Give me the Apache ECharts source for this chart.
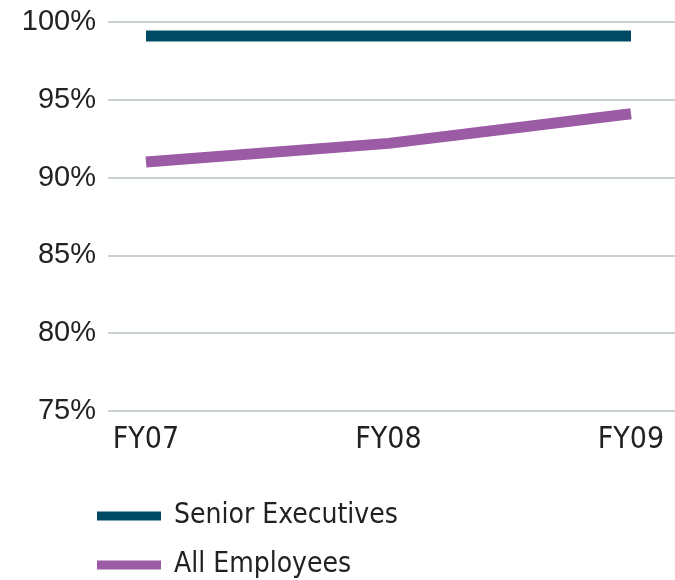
<!DOCTYPE html>
<html><head><meta charset="utf-8">
<script src="https://cdn.jsdelivr.net/npm/echarts@6/dist/echarts.min.js"></script>
<style>html,body{margin:0;padding:0;background:#fff}#c{width:675px;height:580px}</style>
</head><body><div id="c"></div>
<script>
const categories = ['FY07', 'FY08', 'FY09'];
const seniorExecutives = [99.1, 99.1, 99.1];
const allEmployees = [91.0, 92.2, 94.1];
const yTicks = [75, 80, 85, 90, 95, 100];

const narrow = '"DejaVu Sans Condensed", "Liberation Sans Narrow", "Roboto Condensed", "Open Sans Condensed", sans-serif';
const legendBase = {
  orient: 'horizontal', left: 92, itemWidth: 64, itemHeight: 9, icon: 'rect',
  textStyle: { fontSize: 28, color: '#222', fontFamily: narrow, padding: [0, 0, 0, 8] }
};

const chart = echarts.init(document.getElementById('c'));
chart.setOption({
  animation: false,
  backgroundColor: '#fff',
  grid: [
    { left: 108, right: 0, top: 22, bottom: 169 },
    { left: 146, right: 44, top: 22, bottom: 169 }
  ],
  xAxis: [
    { gridIndex: 0, type: 'category', data: categories, show: false },
    { gridIndex: 1, type: 'category', data: categories, boundaryGap: false,
      axisLine: { show: false }, axisTick: { show: false },
      axisLabel: { margin: 14, fontSize: 30, color: '#222', fontFamily: narrow } }
  ],
  yAxis: [
    { gridIndex: 0, type: 'value', min: yTicks[0], max: yTicks[yTicks.length - 1], interval: 5,
      axisLine: { show: false }, axisTick: { show: false },
      splitLine: { lineStyle: { color: '#b9c3bf', width: 1.5 } },
      axisLabel: { margin: 12, fontSize: 29, color: '#222', fontFamily: 'Liberation Sans', formatter: '{value}%' } },
    { gridIndex: 1, type: 'value', min: yTicks[0], max: yTicks[yTicks.length - 1], interval: 5, show: false }
  ],
  legend: [
    Object.assign({}, legendBase, { top: 497, data: ['Senior Executives'] }),
    Object.assign({}, legendBase, { top: 546, data: ['All Employees'] })
  ],
  series: [
    { name: 'Senior Executives', type: 'line', xAxisIndex: 1, yAxisIndex: 1, data: seniorExecutives,
      showSymbol: false, symbol: 'none', color: '#004a66', lineStyle: { width: 11, color: '#004a66', cap: 'butt' } },
    { name: 'All Employees', type: 'line', xAxisIndex: 1, yAxisIndex: 1, data: allEmployees,
      showSymbol: false, symbol: 'none', color: '#9c5ba5', lineStyle: { width: 11, color: '#9c5ba5', cap: 'butt' } }
  ]
});
</script></body></html>
